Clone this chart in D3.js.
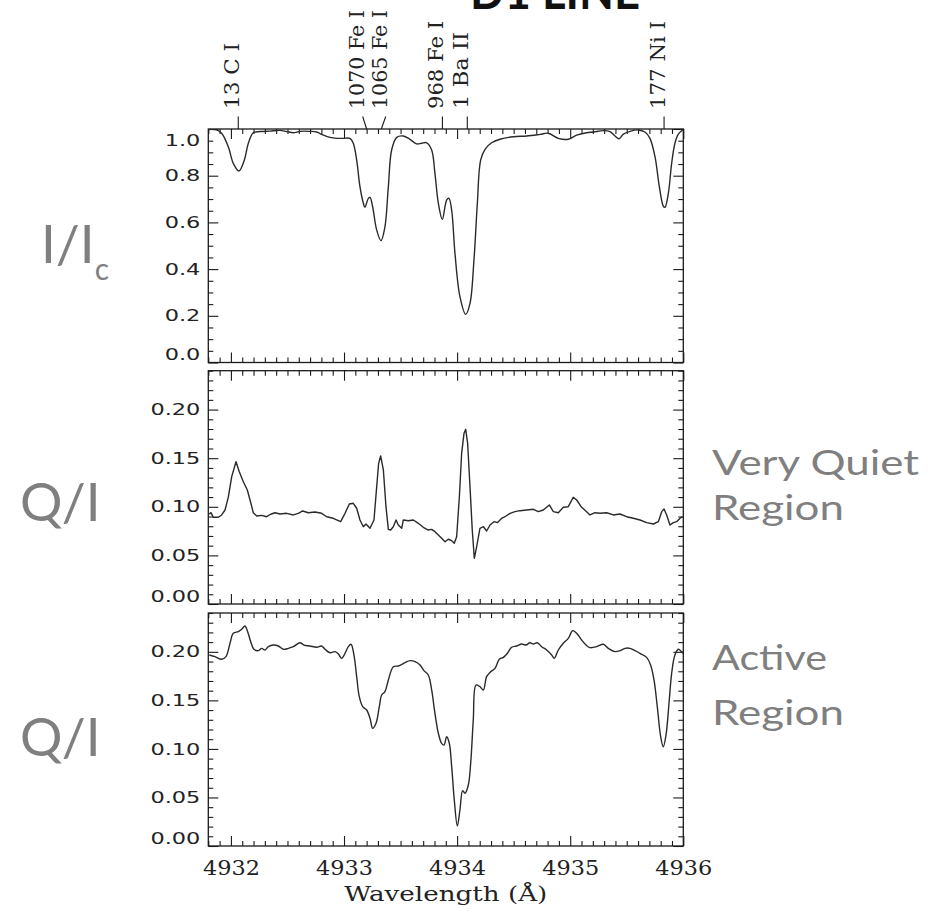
<!DOCTYPE html>
<html><head><meta charset="utf-8">
<script src="https://cdn.jsdelivr.net/npm/d3@7"></script>
<style>body{margin:0;background:#fff} svg{display:block}</style>
</head><body>
<svg id="chart" width="936" height="911"></svg>
<script>
// ---- data ----
const wlIntensity = [4931.800,4931.874,4931.918,4931.977,4932.021,4932.071,4932.119,4932.154,4932.198,4932.257,4932.346,4932.434,4932.493,4932.552,4932.611,4932.699,4932.758,4932.817,4932.876,4932.935,4932.994,4933.053,4933.082,4933.112,4933.141,4933.171,4933.185,4933.215,4933.230,4933.253,4933.289,4933.327,4933.362,4933.392,4933.421,4933.466,4933.524,4933.583,4933.642,4933.687,4933.731,4933.775,4933.804,4933.834,4933.869,4933.908,4933.928,4933.952,4933.981,4934.025,4934.076,4934.114,4934.149,4934.179,4934.208,4934.247,4934.305,4934.379,4934.497,4934.615,4934.733,4934.806,4934.895,4934.983,4935.057,4935.145,4935.204,4935.293,4935.352,4935.396,4935.431,4935.470,4935.529,4935.602,4935.661,4935.705,4935.750,4935.788,4935.823,4935.838,4935.868,4935.897,4935.926,4935.956,4935.994];
const intensity = [0.998,0.996,0.982,0.924,0.853,0.820,0.867,0.939,0.984,0.989,0.991,0.994,0.989,0.984,0.990,0.990,0.987,0.974,0.964,0.960,0.960,0.960,0.939,0.867,0.753,0.682,0.665,0.703,0.707,0.667,0.567,0.522,0.582,0.753,0.910,0.964,0.970,0.956,0.936,0.939,0.941,0.910,0.810,0.682,0.613,0.696,0.703,0.652,0.468,0.282,0.206,0.253,0.439,0.682,0.867,0.913,0.941,0.956,0.967,0.970,0.977,0.982,0.960,0.956,0.974,0.984,0.987,0.993,0.989,0.970,0.958,0.978,0.990,0.996,0.987,0.960,0.881,0.753,0.670,0.665,0.725,0.853,0.939,0.978,0.996];

const wlQuiet = [4931.809,4931.824,4931.844,4931.889,4931.918,4931.948,4931.977,4932.007,4932.045,4932.074,4932.110,4932.145,4932.169,4932.198,4932.228,4932.272,4932.316,4932.351,4932.390,4932.434,4932.493,4932.552,4932.596,4932.634,4932.684,4932.743,4932.802,4932.847,4932.905,4932.970,4933.009,4933.047,4933.082,4933.112,4933.141,4933.171,4933.194,4933.230,4933.265,4933.289,4933.306,4933.324,4933.348,4933.371,4933.392,4933.412,4933.436,4933.460,4933.480,4933.510,4933.524,4933.569,4933.613,4933.657,4933.701,4933.745,4933.775,4933.804,4933.834,4933.863,4933.893,4933.922,4933.952,4933.975,4933.996,4934.020,4934.040,4934.061,4934.076,4934.093,4934.114,4934.134,4934.152,4934.173,4934.202,4934.232,4934.261,4934.291,4934.326,4934.356,4934.394,4934.432,4934.468,4934.512,4934.556,4934.615,4934.674,4934.718,4934.762,4934.815,4934.851,4934.895,4934.939,4934.983,4935.027,4935.057,4935.101,4935.145,4935.175,4935.219,4935.263,4935.322,4935.381,4935.440,4935.499,4935.558,4935.617,4935.676,4935.735,4935.779,4935.809,4935.830,4935.853,4935.882,4935.912,4935.941,4935.971,4935.994];
const qQuiet = [0.0923,0.0940,0.0892,0.0892,0.0916,0.0967,0.1100,0.1310,0.1464,0.1360,0.1258,0.1173,0.1070,0.0939,0.0905,0.0912,0.0898,0.0923,0.0939,0.0926,0.0933,0.0916,0.0933,0.0957,0.0939,0.0947,0.0933,0.0898,0.0882,0.0847,0.0933,0.1029,0.1036,0.0985,0.0864,0.0795,0.0823,0.0779,0.0864,0.1207,0.1447,0.1523,0.1379,0.1001,0.0768,0.0761,0.0795,0.0864,0.0813,0.0779,0.0864,0.0857,0.0864,0.0830,0.0789,0.0761,0.0768,0.0744,0.0710,0.0676,0.0641,0.0666,0.0651,0.0624,0.0692,0.1104,0.1550,0.1756,0.1797,0.1653,0.1207,0.0761,0.0470,0.0590,0.0779,0.0795,0.0751,0.0813,0.0847,0.0837,0.0882,0.0905,0.0933,0.0950,0.0960,0.0967,0.0974,0.0950,0.0967,0.1019,0.0950,0.0939,0.0995,0.1001,0.1098,0.1070,0.0995,0.0950,0.0916,0.0939,0.0933,0.0939,0.0916,0.0926,0.0898,0.0882,0.0864,0.0837,0.0823,0.0847,0.0950,0.0977,0.0916,0.0813,0.0837,0.0847,0.0882,0.0898];

const wlActive = [4931.809,4931.859,4931.918,4931.956,4931.992,4932.021,4932.066,4932.095,4932.124,4932.148,4932.175,4932.204,4932.242,4932.272,4932.301,4932.331,4932.375,4932.419,4932.463,4932.508,4932.552,4932.611,4932.646,4932.699,4932.758,4932.802,4932.832,4932.876,4932.920,4932.950,4932.979,4933.009,4933.038,4933.062,4933.088,4933.112,4933.135,4933.165,4933.200,4933.230,4933.253,4933.283,4933.312,4933.333,4933.362,4933.392,4933.436,4933.480,4933.539,4933.583,4933.628,4933.672,4933.707,4933.745,4933.775,4933.804,4933.834,4933.863,4933.884,4933.908,4933.931,4933.952,4933.975,4934.002,4934.025,4934.049,4934.070,4934.099,4934.120,4934.143,4934.167,4934.202,4934.232,4934.261,4934.297,4934.335,4934.373,4934.409,4934.444,4934.482,4934.527,4934.571,4934.609,4934.644,4934.674,4934.709,4934.748,4934.792,4934.836,4934.859,4934.895,4934.939,4934.983,4935.022,4935.057,4935.101,4935.140,4935.175,4935.234,4935.293,4935.337,4935.396,4935.440,4935.484,4935.529,4935.573,4935.617,4935.676,4935.711,4935.741,4935.770,4935.800,4935.823,4935.847,4935.876,4935.897,4935.926,4935.956,4935.985,4936.000];
const qActive = [0.1967,0.1950,0.1923,0.1950,0.2088,0.2191,0.2208,0.2232,0.2266,0.2208,0.2104,0.2026,0.2012,0.2036,0.2019,0.2053,0.2070,0.2060,0.2026,0.2036,0.2053,0.2094,0.2070,0.2060,0.2047,0.2060,0.2026,0.1991,0.2002,0.1978,0.1933,0.1985,0.2053,0.2078,0.1967,0.1744,0.1538,0.1435,0.1401,0.1315,0.1212,0.1264,0.1435,0.1555,0.1590,0.1710,0.1847,0.1854,0.1888,0.1909,0.1899,0.1864,0.1806,0.1761,0.1607,0.1367,0.1161,0.1058,0.1040,0.1126,0.1058,0.0817,0.0474,0.0206,0.0371,0.0570,0.0543,0.0628,0.0852,0.1298,0.1658,0.1641,0.1607,0.1744,0.1795,0.1830,0.1923,0.1943,0.1985,0.2047,0.2060,0.2081,0.2070,0.2094,0.2081,0.2094,0.2053,0.2019,0.1967,0.1933,0.2019,0.2088,0.2139,0.2218,0.2191,0.2122,0.2070,0.2043,0.2053,0.2078,0.2036,0.2002,0.2012,0.2036,0.2036,0.2012,0.1985,0.1943,0.1864,0.1710,0.1435,0.1126,0.1023,0.1143,0.1504,0.1779,0.1967,0.2026,0.2002,0.1985];

const lineLabels = ["13 C I","1070 Fe I","1065 Fe I","968 Fe I","1 Ba II","177 Ni I"];
const lineWavelengths = [4932.065,4933.200,4933.330,4933.870,4934.090,4935.830];
const labelWavelengths = [4932.065,4933.165,4933.369,4933.870,4934.090,4935.830];

const xTicks = [4932,4933,4934,4935,4936];
const yTicksI = [0.0,0.2,0.4,0.6,0.8,1.0];
const yTicksQ = [0.00,0.05,0.10,0.15,0.20];

// ---- layout ----
const svg = d3.select("#chart");
const X0 = 208.3, X1 = 683.3;
const x = d3.scaleLinear().domain([4931.8, 4936.0]).range([X0, X1]);
const xMinor = d3.range(0, 43).map(i => 4931.8 + i * 0.1).filter(v => !xTicks.some(t => Math.abs(t - v) < 1e-6));

const panels = [
  {top:129, bottom:362.5, max:1.0, ticks:yTicksI, minorStep:0.05, fmt:d3.format(".1f"), wl:wlIntensity, v:intensity, curve:d3.curveCatmullRom.alpha(0.5), xLabels:false},
  {top:370.7, bottom:604, max:0.24, ticks:yTicksQ, minorStep:0.01, fmt:d3.format(".2f"), wl:wlQuiet, v:qQuiet, curve:d3.curveLinear, xLabels:false},
  {top:613, bottom:846, max:0.24, ticks:yTicksQ, minorStep:0.01, fmt:d3.format(".2f"), wl:wlActive, v:qActive, curve:d3.curveCatmullRom.alpha(0.5), xLabels:true}
];

const ink = "#1a1a1a";

panels.forEach((p, idx) => {
  const y = d3.scaleLinear().domain([0, p.max]).range([p.bottom, p.top]);
  const nMinor = Math.round(p.max / p.minorStep);
  const yMinor = d3.range(0, nMinor + 1).map(i => i * p.minorStep).filter(v => !p.ticks.some(t => Math.abs(t - v) < 1e-9));
  const g = svg.append("g");

  const style = sel => { sel.select(".domain").remove(); sel.selectAll("line").attr("stroke", ink).attr("stroke-width", 1.1); };

  g.append("g").attr("transform", `translate(${X0},0)`)
    .call(d3.axisLeft(y).tickValues(p.ticks).tickSize(-10).tickPadding(8).tickFormat(p.fmt))
    .call(style)
    .call(s => s.selectAll("text")
      .attr("font-family", "DejaVu Sans").attr("font-size", 16).attr("fill", "#222")
      .each(function(d) {
        const w = this.getComputedTextLength();
        d3.select(this).attr("textLength", w * 1.4).attr("lengthAdjust", "spacingAndGlyphs");
        const py = y(d);
        if (py > p.bottom - 1) d3.select(this).attr("y", -8);      // keep the edge labels inside the frame
        if (py < p.top + 1) d3.select(this).attr("y", 11);
      }));
  g.append("g").attr("transform", `translate(${X0},0)`)
    .call(d3.axisLeft(y).tickValues(yMinor).tickSize(-5).tickFormat("")).call(style);
  g.append("g").attr("transform", `translate(${X1},0)`)
    .call(d3.axisRight(y).tickValues(p.ticks).tickSize(-10).tickFormat("")).call(style);
  g.append("g").attr("transform", `translate(${X1},0)`)
    .call(d3.axisRight(y).tickValues(yMinor).tickSize(-5).tickFormat("")).call(style);

  g.append("g").attr("transform", `translate(0,${p.top})`)
    .call(d3.axisTop(x).tickValues(xTicks).tickSize(-10).tickFormat("")).call(style);
  g.append("g").attr("transform", `translate(0,${p.top})`)
    .call(d3.axisTop(x).tickValues(xMinor).tickSize(-5).tickFormat("")).call(style);
  g.append("g").attr("transform", `translate(0,${p.bottom})`)
    .call(d3.axisBottom(x).tickValues(xTicks).tickSize(-10).tickPadding(14).tickFormat(p.xLabels ? d3.format("d") : ""))
    .call(style)
    .call(s => s.selectAll("text").attr("font-family", "DejaVu Serif").attr("font-size", 21).attr("fill", "#222")
      .filter(function() { return this.textContent.length; })
      .attr("textLength", 57).attr("lengthAdjust", "spacingAndGlyphs"));
  g.append("g").attr("transform", `translate(0,${p.bottom})`)
    .call(d3.axisBottom(x).tickValues(xMinor).tickSize(-5).tickFormat("")).call(style);

  g.append("rect").attr("x", X0).attr("y", p.top).attr("width", X1 - X0).attr("height", p.bottom - p.top)
    .attr("fill", "none").attr("stroke", ink).attr("stroke-width", 1.3);

  const clipId = "clip" + idx;
  svg.append("clipPath").attr("id", clipId).append("rect")
    .attr("x", X0).attr("y", p.top).attr("width", X1 - X0).attr("height", p.bottom - p.top);

  const line = d3.line().x((d, i) => x(p.wl[i])).y(d => y(d)).curve(p.curve);
  g.append("path").datum(p.v).attr("d", line).attr("clip-path", `url(#${clipId})`)
    .attr("fill", "none").attr("stroke", "#2a2a2a").attr("stroke-width", 1.4).attr("stroke-linejoin", "round");
});

// ---- spectral line identifications ----
const top1 = panels[0].top;
const lab = svg.append("g");
lineLabels.forEach((t, i) => {
  const xl = x(labelWavelengths[i]), xw = x(lineWavelengths[i]);
  lab.append("line").attr("x1", xl).attr("y1", top1 - 12.5).attr("x2", xw).attr("y2", top1)
    .attr("stroke", ink).attr("stroke-width", 1.1);
  lab.append("text").attr("transform", `translate(${xl},${top1 - 20}) rotate(-90)`)
    .attr("dy", "0.05em").attr("text-anchor", "start")
    .attr("font-family", "DejaVu Serif").attr("font-size", 20).attr("fill", "#222")
    .attr("textLength", t.length * 11).attr("lengthAdjust", "spacingAndGlyphs")
    .text(t);
});

// ---- title (cut off at the top edge, as in the reference) ----
svg.append("text").attr("x", 470).attr("y", 9).attr("font-family", "Lato").attr("font-weight", 700)
  .attr("font-size", 50).attr("fill", "#111").attr("textLength", 170).attr("lengthAdjust", "spacingAndGlyphs")
  .text("D1 LINE");

// ---- axis title ----
svg.append("text").attr("x", (X0 + X1) / 2).attr("y", 901).attr("text-anchor", "middle")
  .attr("font-family", "DejaVu Serif").attr("font-size", 21).attr("fill", "#222")
  .attr("textLength", 203).attr("lengthAdjust", "spacingAndGlyphs")
  .text("Wavelength (Å)");

// ---- annotations ----
const grey = "#7f7f7f", ann = "Lato";
const t1 = svg.append("text").attr("x", 41).attr("y", 263).attr("font-family", ann).attr("font-size", 53).attr("fill", grey);
t1.append("tspan").text("I/I");
t1.append("tspan").attr("font-size", 30).attr("dy", 17).text("c");
svg.append("text").attr("x", 20).attr("y", 521).attr("font-family", ann).attr("font-size", 53).attr("fill", grey).text("Q/I");
svg.append("text").attr("x", 20).attr("y", 756).attr("font-family", ann).attr("font-size", 53).attr("fill", grey).text("Q/I");

const rl = [["Very Quiet", 475, 207], ["Region", 520, 132], ["Active", 670, 115], ["Region", 725, 132]];
rl.forEach(([t, yb, w]) => {
  svg.append("text").attr("x", 712).attr("y", yb).attr("font-family", ann).attr("font-size", 35).attr("fill", grey)
    .attr("textLength", w).attr("lengthAdjust", "spacingAndGlyphs").text(t);
});
</script>
</body></html>
